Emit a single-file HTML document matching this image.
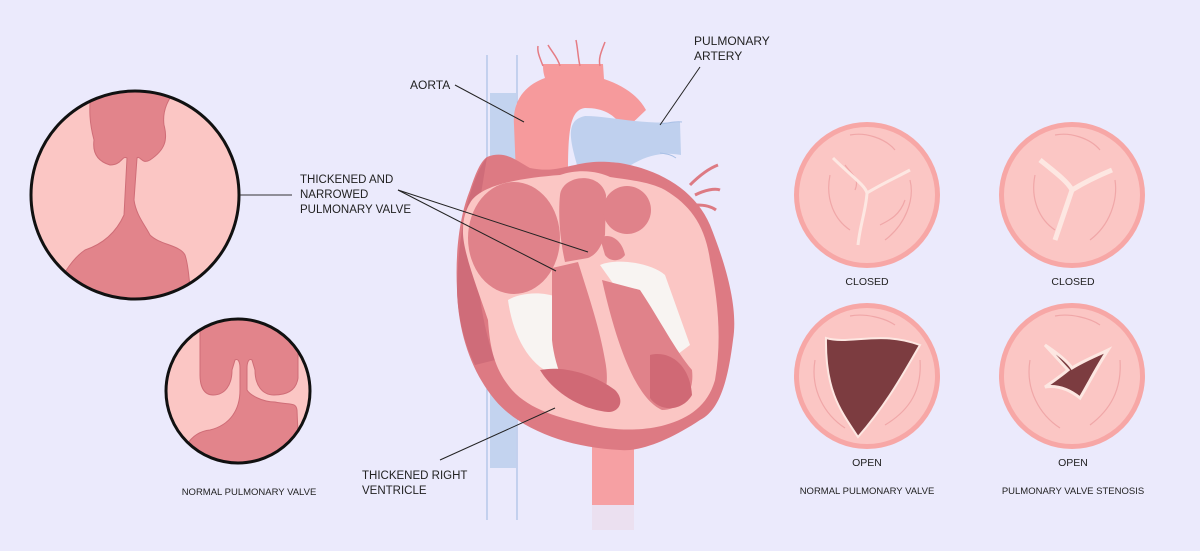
<!DOCTYPE html>
<html><head><meta charset="utf-8"><style>
html,body{margin:0;padding:0;background:#ebeafc;}
svg{display:block}
text{font-family:"Liberation Sans",sans-serif;fill:#222;}
</style></head><body>
<svg width="1200" height="551" viewBox="0 0 1200 551" xmlns="http://www.w3.org/2000/svg">
<rect width="1200" height="551" fill="#ebeafc"/>
<defs>
<clipPath id="c1"><circle cx="135" cy="195" r="104"/></clipPath>
<clipPath id="c2"><circle cx="238" cy="391" r="72"/></clipPath>
</defs>
<g clip-path="url(#c1)">
<rect x="20" y="80" width="240" height="240" fill="#fbc6c4"/>
<path d="M92 85 L178 85 C168 100 162 110 164 125 C168 140 165 150 150 160 C142 165 140 155 137 158 L134 200 C136 215 145 225 150 235 C160 245 180 245 185 255 C190 270 188 285 193 300 L50 300 C60 280 70 260 85 250 C100 245 115 235 124 215 L127 158 C122 155 122 165 110 165 C100 162 92 155 94 140 C90 125 88 110 92 85Z" fill="#e2848b" stroke="#cf6d77" stroke-width="1"/>
</g>
<circle cx="135" cy="195" r="104" fill="none" stroke="#111" stroke-width="3"/>
<line x1="240" y1="195" x2="292" y2="195" stroke="#333" stroke-width="1"/>
<g clip-path="url(#c2)">
<rect x="160" y="310" width="160" height="170" fill="#fbc6c4"/>
<path d="M200 312 L298 312 L298 378 C296 392 285 395 274 395 C262 395 255 385 255 370 L252 360 C249 358 247 362 247 368 L247 390 C250 395 262 402 275 402 C290 405 296 402 297 410 L300 480 L175 480 C180 450 190 432 210 430 C230 425 240 410 240 390 L240 368 C240 362 238 358 235 360 L232 370 C232 385 225 395 213 395 C203 395 200 385 200 375Z" fill="#e2848b" stroke="#cf6d77" stroke-width="1"/>
</g>
<circle cx="238" cy="391" r="72" fill="none" stroke="#111" stroke-width="3"/>
<text x="249" y="495" font-size="9.5" text-anchor="middle">NORMAL PULMONARY VALVE</text>

<path d="M487 55 L487 520 M517 55 L517 520" stroke="#a9c0e6" stroke-width="1.2" fill="none"/>
<rect x="490" y="93" width="26" height="375" fill="#c3d3ef"/>
<rect x="592" y="440" width="42" height="75" fill="#f6a0a3"/>
<rect x="592" y="505" width="42" height="25" fill="#ebe0f0"/>
<path d="M516 175 L514 125 C512 98 528 84 545 78 C543 72 543 68 543 64 L603 64 L604 79 C622 85 638 95 646 110 L625 130 C615 115 605 108 585 108 C570 110 568 130 568 175Z" fill="#f69a9c"/>
<path d="M543 66 C540 58 537 52 538 46 M560 66 C558 58 552 52 548 45 M580 66 C578 58 578 50 576 40 M600 66 C598 58 602 50 605 42" stroke="#e57c84" stroke-width="1.5" fill="none"/>
<path d="M577 165 C570 140 565 120 585 116 C610 116 640 125 680 122 L681 155 C655 150 635 160 613 178Z" fill="#bfd0ee"/>
<path d="M660 124 C670 123 675 121 682 122 M660 153 C668 154 672 155 676 158" stroke="#a9c0e6" stroke-width="1" fill="none"/>
<path d="M690 185 C700 175 710 168 718 165 M695 195 C705 190 715 188 720 190 M697 205 C705 205 712 207 716 210" stroke="#dd7a83" stroke-width="3" fill="none"/>
<path d="M487 157 C505 150 515 160 530 168 C550 172 560 168 575 165 C595 160 610 162 620 163 C660 170 695 190 710 225 C728 270 738 310 733 340 C728 380 720 410 700 420 C670 440 640 452 620 450 C570 448 520 430 495 400 C470 370 458 330 457 290 C455 250 460 215 470 190 C475 175 480 162 487 157Z" fill="#dd7a83"/>
<path d="M487 157 C470 180 458 230 457 290 C458 320 465 345 475 365 L495 360 C480 320 472 260 480 200Z" fill="#cf6c79"/>
<path d="M470 203 C480 185 520 178 560 175 C580 168 600 172 610 177 C630 180 650 182 665 190 C690 205 705 225 710 260 C718 300 722 340 715 380 C708 405 690 418 665 425 C640 432 610 430 590 425 C560 418 530 410 512 390 C495 370 490 350 488 320 C478 290 462 250 463 230 C463 218 466 210 470 203Z" fill="#fbc6c4"/>
<ellipse cx="514" cy="238" rx="46" ry="56" fill="#e0828a"/>
<path d="M560 195 C562 175 600 170 606 195 L605 235 C600 250 595 255 588 258 L565 262 C560 240 558 215 560 195Z" fill="#e0828a"/>
<circle cx="627" cy="210" r="24" fill="#e0828a"/>
<path d="M600 238 C610 232 622 240 625 255 C620 262 610 262 605 255Z" fill="#e0828a"/>
<path d="M508 300 C525 290 560 290 575 310 L585 365 L548 372 C525 360 512 330 508 300Z" fill="#f8f4f2"/>
<path d="M600 265 C615 258 650 262 665 275 L690 345 L670 360 C645 330 625 300 600 265Z" fill="#f8f4f2"/>
<path d="M552 268 L578 262 C590 300 600 330 605 360 C610 385 605 405 590 408 C570 405 555 370 552 340Z" fill="#e0828a"/>
<path d="M540 370 C565 365 595 375 615 390 C625 400 620 412 608 412 C585 410 555 395 540 370Z" fill="#d06975"/>
<path d="M602 280 L640 290 C660 320 675 350 692 370 C695 395 680 410 662 410 C640 400 620 360 602 280Z" fill="#e0828a"/>
<path d="M650 355 C670 350 690 365 692 395 C682 412 660 412 650 398Z" fill="#d06975"/>
<g stroke="#222" stroke-width="1" fill="none">
<line x1="455" y1="85" x2="524" y2="122"/>
<line x1="700" y1="67" x2="660" y2="125"/>
<line x1="398" y1="190" x2="588" y2="252"/>
<line x1="398" y1="190" x2="556" y2="271"/>
<line x1="440" y1="460" x2="555" y2="408"/>
</g>
<text x="410" y="89" font-size="12">AORTA</text>
<text x="694" y="45" font-size="12">PULMONARY</text>
<text x="694" y="60" font-size="12">ARTERY</text>
<text x="300" y="183" font-size="11.5">THICKENED AND</text>
<text x="300" y="198" font-size="11.5">NARROWED</text>
<text x="300" y="213" font-size="11.5">PULMONARY VALVE</text>
<text x="362" y="479" font-size="11.5">THICKENED RIGHT</text>
<text x="362" y="494" font-size="11.5">VENTRICLE</text>

<g fill="none" stroke="#f0a7a8" stroke-width="1.2">
<circle cx="867" cy="195" r="73" fill="#f7a7a6" stroke="none"/>
<circle cx="867" cy="195" r="68" fill="#fbc6c4" stroke="none"/>
<path d="M850 135 C865 132 885 138 895 150 M845 165 C852 175 860 178 855 190 M830 175 C825 200 835 220 850 230 M905 200 C900 215 890 220 880 225 M910 180 C915 200 905 225 885 240"/>
<path d="M833 158 C850 175 865 185 867 193 M867 193 C880 185 895 178 910 170 M867 193 C866 210 860 225 858 245" stroke="#fde7e2" stroke-width="3"/>
<circle cx="1072" cy="195" r="73" fill="#f7a7a6" stroke="none"/>
<circle cx="1072" cy="195" r="68" fill="#fbc6c4" stroke="none"/>
<path d="M1055 135 C1070 132 1090 138 1100 150 M1035 175 C1030 200 1040 220 1055 230 M1115 180 C1118 200 1110 225 1090 240"/>
<path d="M1040 160 C1055 172 1068 182 1072 190 M1072 190 C1085 182 1100 175 1112 170 M1072 190 C1066 208 1060 225 1055 240" stroke="#fde7e2" stroke-width="5"/>
<circle cx="867" cy="376" r="73" fill="#f7a7a6" stroke="none"/>
<circle cx="867" cy="376" r="68" fill="#fbc6c4" stroke="none"/>
<path d="M850 316 C865 313 885 318 895 325 M815 360 C810 390 825 415 845 428 M920 360 C922 390 910 410 885 425"/>
<path d="M826 338 C850 345 880 330 920 345 C905 370 890 400 858 437 C840 410 825 390 826 338Z" fill="#7c3c40" stroke="#fde7e2" stroke-width="2"/>
<circle cx="1072" cy="376" r="73" fill="#f7a7a6" stroke="none"/>
<circle cx="1072" cy="376" r="68" fill="#fbc6c4" stroke="none"/>
<path d="M1055 316 C1070 313 1090 318 1100 325 M1030 360 C1025 390 1040 415 1060 428 M1120 360 C1122 390 1110 410 1090 425"/>
<path d="M1045 345 C1060 355 1068 362 1072 368 C1085 360 1098 355 1108 350 C1095 370 1088 385 1080 398 C1070 390 1058 385 1045 387 C1055 380 1062 375 1068 370Z" fill="#7c3c40" stroke="#fde7e2" stroke-width="3"/>
</g>
<text x="867" y="285" font-size="10.5" text-anchor="middle">CLOSED</text>
<text x="1073" y="285" font-size="10.5" text-anchor="middle">CLOSED</text>
<text x="867" y="466" font-size="10.5" text-anchor="middle">OPEN</text>
<text x="1073" y="466" font-size="10.5" text-anchor="middle">OPEN</text>
<text x="867" y="494" font-size="9.5" text-anchor="middle">NORMAL PULMONARY VALVE</text>
<text x="1073" y="494" font-size="9.5" text-anchor="middle">PULMONARY VALVE STENOSIS</text>
</svg>
</body></html>
